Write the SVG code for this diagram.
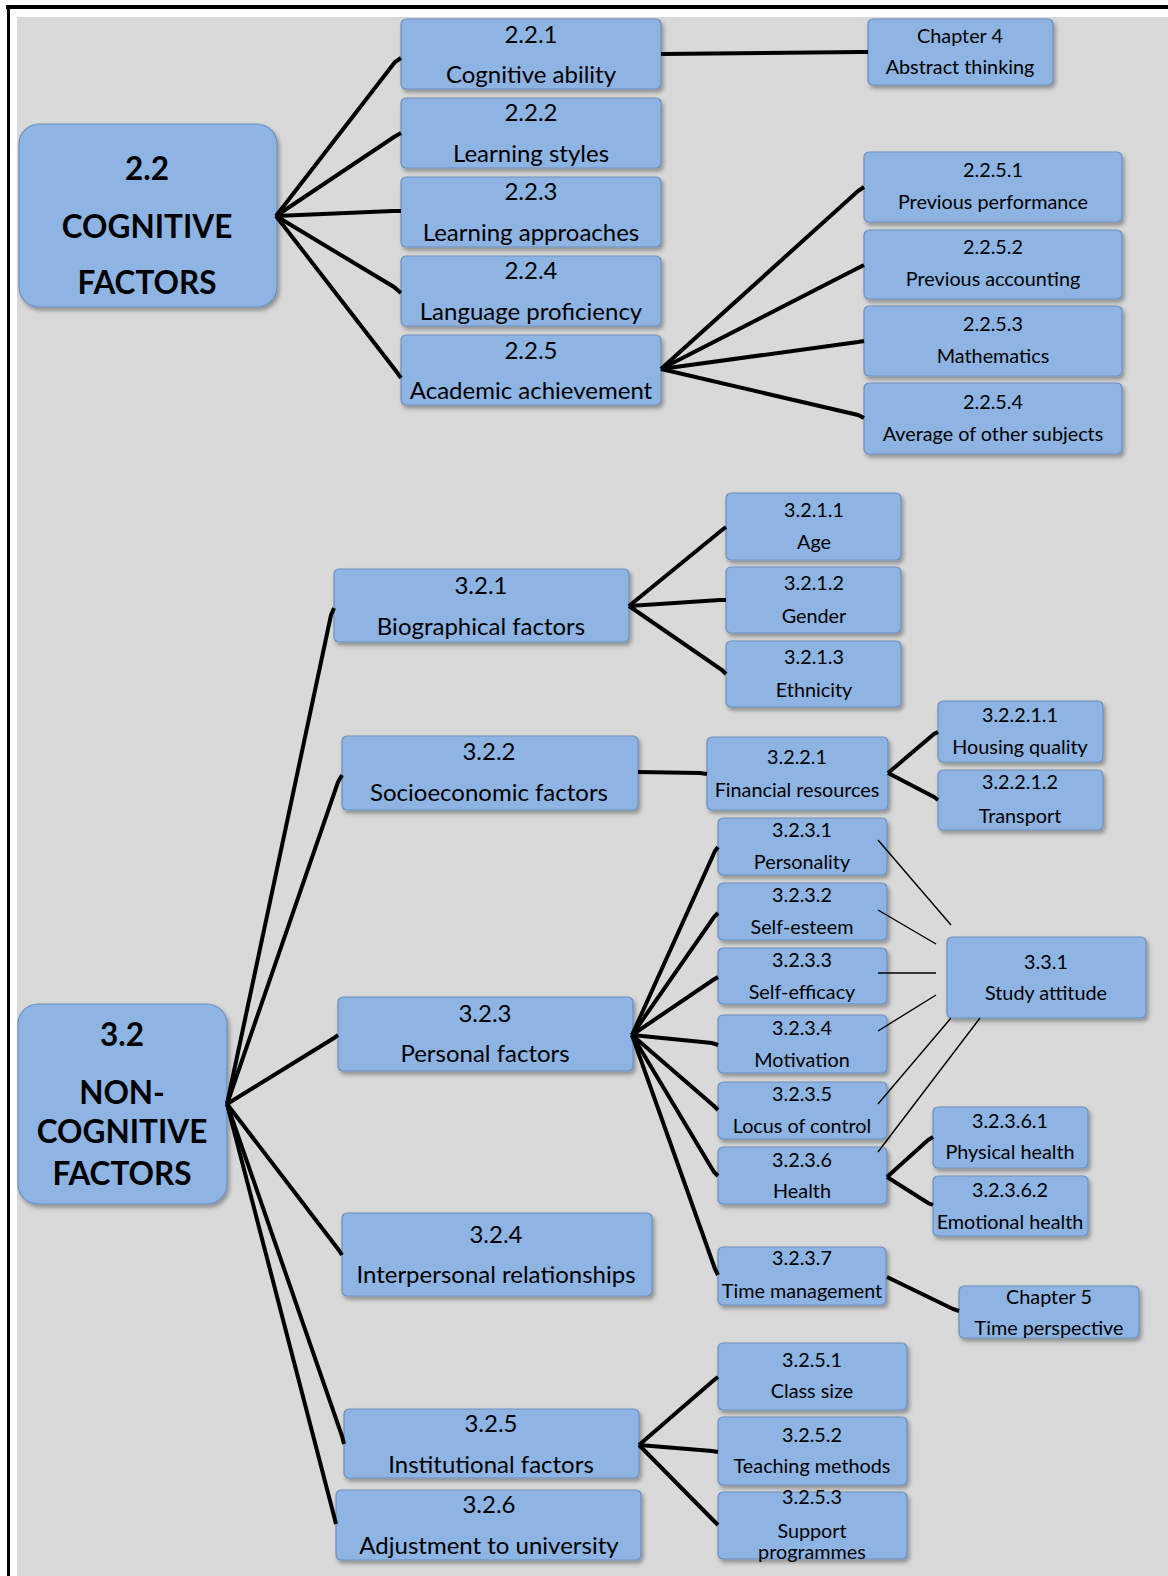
<svg xmlns="http://www.w3.org/2000/svg" width="1168" height="1576" viewBox="0 0 1168 1576">
  <defs>
    <filter id="shadow" x="-10%" y="-10%" width="125%" height="135%">
      <feDropShadow dx="2" dy="3" stdDeviation="2" flood-color="#000" flood-opacity="0.35"/>
    </filter>
  </defs>
  <style>
    .box { fill: #8eb4e3; stroke: #6d8fbd; stroke-width: 1.2; filter: url(#shadow); }
    text { font-family: Lato, "Liberation Sans", sans-serif; fill: #000; text-anchor: middle; }
    .big { font-size: 31.5px; font-weight: bold; }
    .l2 { font-size: 24px; }
    .l3 { font-size: 19.8px; }
    .thick { stroke: #000; stroke-width: 4; fill: none; stroke-linejoin: miter; }
    .thin { stroke: #000; stroke-width: 1.4; fill: none; }
  </style>

  <!-- page frame -->
  <rect x="0" y="0" width="1168" height="1576" fill="#fff"/>
  <rect x="17" y="17" width="1151" height="1559" fill="#d9d9d9"/>
  <rect x="6" y="5" width="1162" height="4" fill="#000"/>
  <rect x="7" y="5" width="3" height="1571" fill="#000"/>

  <!-- ===== Cognitive factors ===== -->
  <g id="n2_2">
    <rect class="box" x="19" y="124" width="258" height="183" rx="20"/>
    <text class="big" x="147" y="180">2.2</text>
    <text class="big" x="147" y="238">COGNITIVE</text>
    <text class="big" x="147" y="294">FACTORS</text>
  </g>
  <g id="n2_2_1">
    <rect class="box" x="401" y="19" width="260" height="70" rx="5"/>
    <text class="l2" x="531" y="43">2.2.1</text>
    <text class="l2" x="531" y="83">Cognitive ability</text>
  </g>
  <g id="n2_2_2">
    <rect class="box" x="401" y="98" width="260" height="70" rx="5"/>
    <text class="l2" x="531" y="121">2.2.2</text>
    <text class="l2" x="531" y="162">Learning styles</text>
  </g>
  <g id="n2_2_3">
    <rect class="box" x="401" y="177" width="260" height="70" rx="5"/>
    <text class="l2" x="531" y="200">2.2.3</text>
    <text class="l2" x="531" y="241">Learning approaches</text>
  </g>
  <g id="n2_2_4">
    <rect class="box" x="401" y="256" width="260" height="70" rx="5"/>
    <text class="l2" x="531" y="279">2.2.4</text>
    <text class="l2" x="531" y="320">Language proficiency</text>
  </g>
  <g id="n2_2_5">
    <rect class="box" x="401" y="335" width="260" height="70" rx="5"/>
    <text class="l2" x="531" y="359">2.2.5</text>
    <text class="l2" x="531" y="399">Academic achievement</text>
  </g>
  <g id="chapter4">
    <rect class="box" x="868" y="19" width="185" height="66" rx="5"/>
    <text class="l3" x="960" y="43">Chapter 4</text>
    <text class="l3" x="960" y="74">Abstract thinking</text>
  </g>
  <g id="n2_2_5_1">
    <rect class="box" x="864" y="152" width="258" height="70" rx="5"/>
    <text class="l3" x="993" y="177">2.2.5.1</text>
    <text class="l3" x="993" y="209">Previous performance</text>
  </g>
  <g id="n2_2_5_2">
    <rect class="box" x="864" y="230" width="258" height="69" rx="5"/>
    <text class="l3" x="993" y="254">2.2.5.2</text>
    <text class="l3" x="993" y="286">Previous accounting</text>
  </g>
  <g id="n2_2_5_3">
    <rect class="box" x="864" y="306" width="258" height="70" rx="5"/>
    <text class="l3" x="993" y="331">2.2.5.3</text>
    <text class="l3" x="993" y="363">Mathematics</text>
  </g>
  <g id="n2_2_5_4">
    <rect class="box" x="864" y="383" width="258" height="71" rx="5"/>
    <text class="l3" x="993" y="409">2.2.5.4</text>
    <text class="l3" x="993" y="441">Average of other subjects</text>
  </g>

  <!-- ===== Non-cognitive factors ===== -->
  <g id="n3_2">
    <rect class="box" x="18" y="1004" width="209" height="200" rx="20"/>
    <text class="big" x="122" y="1046">3.2</text>
    <text class="big" x="122" y="1104">NON-</text>
    <text class="big" x="122" y="1143">COGNITIVE</text>
    <text class="big" x="122" y="1185">FACTORS</text>
  </g>
  <g id="n3_2_1">
    <rect class="box" x="334" y="569" width="295" height="73" rx="5"/>
    <text class="l2" x="481" y="594">3.2.1</text>
    <text class="l2" x="481" y="635">Biographical factors</text>
  </g>
  <g id="n3_2_2">
    <rect class="box" x="342" y="736" width="296" height="74" rx="5"/>
    <text class="l2" x="489" y="760">3.2.2</text>
    <text class="l2" x="489" y="801">Socioeconomic factors</text>
  </g>
  <g id="n3_2_3">
    <rect class="box" x="338" y="997" width="295" height="74" rx="5"/>
    <text class="l2" x="485" y="1022">3.2.3</text>
    <text class="l2" x="485" y="1062">Personal factors</text>
  </g>
  <g id="n3_2_4">
    <rect class="box" x="342" y="1213" width="310" height="83" rx="5"/>
    <text class="l2" x="496" y="1243">3.2.4</text>
    <text class="l2" x="496" y="1283">Interpersonal relationships</text>
  </g>
  <g id="n3_2_5">
    <rect class="box" x="344" y="1409" width="295" height="69" rx="5"/>
    <text class="l2" x="491" y="1432">3.2.5</text>
    <text class="l2" x="491" y="1473">Institutional factors</text>
  </g>
  <g id="n3_2_6">
    <rect class="box" x="336" y="1490" width="305" height="70" rx="5"/>
    <text class="l2" x="489" y="1513">3.2.6</text>
    <text class="l2" x="489" y="1554">Adjustment to university</text>
  </g>

  <g id="n3_2_1_1">
    <rect class="box" x="726" y="493" width="175" height="67" rx="5"/>
    <text class="l3" x="814" y="517">3.2.1.1</text>
    <text class="l3" x="814" y="549">Age</text>
  </g>
  <g id="n3_2_1_2">
    <rect class="box" x="726" y="567" width="175" height="66" rx="5"/>
    <text class="l3" x="814" y="590">3.2.1.2</text>
    <text class="l3" x="814" y="623">Gender</text>
  </g>
  <g id="n3_2_1_3">
    <rect class="box" x="726" y="641" width="175" height="66" rx="5"/>
    <text class="l3" x="814" y="664">3.2.1.3</text>
    <text class="l3" x="814" y="697">Ethnicity</text>
  </g>

  <g id="n3_2_2_1">
    <rect class="box" x="707" y="737" width="181" height="73" rx="5"/>
    <text class="l3" x="797" y="764">3.2.2.1</text>
    <text class="l3" x="797" y="797">Financial resources</text>
  </g>
  <g id="n3_2_2_1_1">
    <rect class="box" x="938" y="701" width="165" height="61" rx="5"/>
    <text class="l3" x="1020" y="722">3.2.2.1.1</text>
    <text class="l3" x="1020" y="754">Housing quality</text>
  </g>
  <g id="n3_2_2_1_2">
    <rect class="box" x="938" y="770" width="165" height="60" rx="5"/>
    <text class="l3" x="1020" y="789">3.2.2.1.2</text>
    <text class="l3" x="1020" y="823">Transport</text>
  </g>

  <g id="n3_2_3_1">
    <rect class="box" x="718" y="818" width="169" height="57" rx="5"/>
    <text class="l3" x="802" y="837">3.2.3.1</text>
    <text class="l3" x="802" y="869">Personality</text>
  </g>
  <g id="n3_2_3_2">
    <rect class="box" x="718" y="883" width="169" height="57" rx="5"/>
    <text class="l3" x="802" y="902">3.2.3.2</text>
    <text class="l3" x="802" y="934">Self-esteem</text>
  </g>
  <g id="n3_2_3_3">
    <rect class="box" x="718" y="948" width="169" height="56" rx="5"/>
    <text class="l3" x="802" y="967">3.2.3.3</text>
    <text class="l3" x="802" y="999">Self-efficacy</text>
  </g>
  <g id="n3_2_3_4">
    <rect class="box" x="718" y="1015" width="169" height="58" rx="5"/>
    <text class="l3" x="802" y="1035">3.2.3.4</text>
    <text class="l3" x="802" y="1067">Motivation</text>
  </g>
  <g id="n3_2_3_5">
    <rect class="box" x="718" y="1082" width="169" height="57" rx="5"/>
    <text class="l3" x="802" y="1101">3.2.3.5</text>
    <text class="l3" x="802" y="1133">Locus of control</text>
  </g>
  <g id="n3_2_3_6">
    <rect class="box" x="718" y="1147" width="169" height="57" rx="5"/>
    <text class="l3" x="802" y="1167">3.2.3.6</text>
    <text class="l3" x="802" y="1198">Health</text>
  </g>
  <g id="n3_2_3_7">
    <rect class="box" x="718" y="1247" width="168" height="58" rx="5"/>
    <text class="l3" x="802" y="1265">3.2.3.7</text>
    <text class="l3" x="802" y="1298">Time management</text>
  </g>

  <g id="n3_3_1">
    <rect class="box" x="947" y="937" width="199" height="81" rx="5"/>
    <text class="l3" x="1046" y="969">3.3.1</text>
    <text class="l3" x="1046" y="1000">Study attitude</text>
  </g>
  <g id="n3_2_3_6_1">
    <rect class="box" x="933" y="1107" width="155" height="61" rx="5"/>
    <text class="l3" x="1010" y="1128">3.2.3.6.1</text>
    <text class="l3" x="1010" y="1159">Physical health</text>
  </g>
  <g id="n3_2_3_6_2">
    <rect class="box" x="933" y="1176" width="155" height="60" rx="5"/>
    <text class="l3" x="1010" y="1197">3.2.3.6.2</text>
    <text class="l3" x="1010" y="1229">Emotional health</text>
  </g>
  <g id="chapter5">
    <rect class="box" x="959" y="1286" width="180" height="52" rx="5"/>
    <text class="l3" x="1049" y="1304">Chapter 5</text>
    <text class="l3" x="1049" y="1335">Time perspective</text>
  </g>

  <g id="n3_2_5_1">
    <rect class="box" x="718" y="1343" width="189" height="67" rx="5"/>
    <text class="l3" x="812" y="1367">3.2.5.1</text>
    <text class="l3" x="812" y="1398">Class size</text>
  </g>
  <g id="n3_2_5_2">
    <rect class="box" x="718" y="1417" width="189" height="68" rx="5"/>
    <text class="l3" x="812" y="1442">3.2.5.2</text>
    <text class="l3" x="812" y="1473">Teaching methods</text>
  </g>
  <g id="n3_2_5_3">
    <rect class="box" x="718" y="1492" width="189" height="67" rx="5"/>
    <text class="l3" x="812" y="1504">3.2.5.3</text>
    <text class="l3" x="812" y="1538">Support</text>
    <text class="l3" x="812" y="1559">programmes</text>
  </g>

  <!-- connectors -->
  <g id="connectors">
    <!-- 2.2 to its sub-factors -->
    <polyline class="thick" points="276,216 395,62 401,58"/>
    <polyline class="thick" points="276,216 394,137 401,133"/>
    <polyline class="thick" points="276,216 393,211 401,211"/>
    <polyline class="thick" points="276,216 394,287 401,293"/>
    <polyline class="thick" points="276,216 396,371 401,378"/>
    <polyline class="thick" points="661,54 860,52 868,52"/>
    <!-- 2.2.5 to its sub-factors -->
    <polyline class="thick" points="661,369 858,191 864,187"/>
    <polyline class="thick" points="661,369 858,268 864,265"/>
    <polyline class="thick" points="661,369 858,342 864,341"/>
    <polyline class="thick" points="661,369 858,415 864,418"/>

    <!-- 3.2 to its sub-factors -->
    <polyline class="thick" points="227,1104 331,615 334,608"/>
    <polyline class="thick" points="227,1104 338,782 342,775"/>
    <polyline class="thick" points="227,1104 334,1038 338,1035"/>
    <polyline class="thick" points="227,1104 338,1249 342,1255"/>
    <polyline class="thick" points="227,1104 342,1436 344,1444"/>
    <polyline class="thick" points="227,1104 334,1516 336,1524"/>

    <!-- 3.2.1 -->
    <polyline class="thick" points="629,606 722,530 726,527"/>
    <polyline class="thick" points="629,606 720,600 726,600"/>
    <polyline class="thick" points="629,606 722,670 726,674"/>
    <!-- 3.2.2 -->
    <polyline class="thick" points="638,772 700,773 707,774"/>
    <polyline class="thick" points="888,773 934,734 938,732"/>
    <polyline class="thick" points="888,773 934,797 938,800"/>

    <!-- 3.2.3 -->
    <polyline class="thick" points="632,1035 715,851 718,847"/>
    <polyline class="thick" points="632,1035 714,917 718,913"/>
    <polyline class="thick" points="632,1035 713,980 718,977"/>
    <polyline class="thick" points="632,1035 712,1043 718,1045"/>
    <polyline class="thick" points="632,1035 714,1106 718,1110"/>
    <polyline class="thick" points="632,1035 714,1172 718,1176"/>
    <polyline class="thick" points="632,1035 715,1269 718,1275"/>
    <!-- 3.2.3.6 -->
    <polyline class="thick" points="887,1177 928,1140 933,1137"/>
    <polyline class="thick" points="887,1177 928,1203 933,1205"/>
    <!-- 3.2.3.7 -->
    <polyline class="thick" points="887,1277 953,1309 959,1311"/>
    <!-- 3.2.5 -->
    <polyline class="thick" points="639,1445 714,1380 718,1377"/>
    <polyline class="thick" points="639,1445 712,1451 718,1452"/>
    <polyline class="thick" points="639,1445 714,1521 718,1525"/>

    <!-- personal factors feeding study attitude -->
    <line class="thin" x1="878" y1="840" x2="951" y2="925"/>
    <line class="thin" x1="878" y1="910" x2="936" y2="944"/>
    <line class="thin" x1="878" y1="973" x2="936" y2="973"/>
    <line class="thin" x1="878" y1="1031" x2="936" y2="995"/>
    <line class="thin" x1="878" y1="1104" x2="951" y2="1018"/>
    <line class="thin" x1="878" y1="1152" x2="980" y2="1018"/>
  </g>
</svg>
